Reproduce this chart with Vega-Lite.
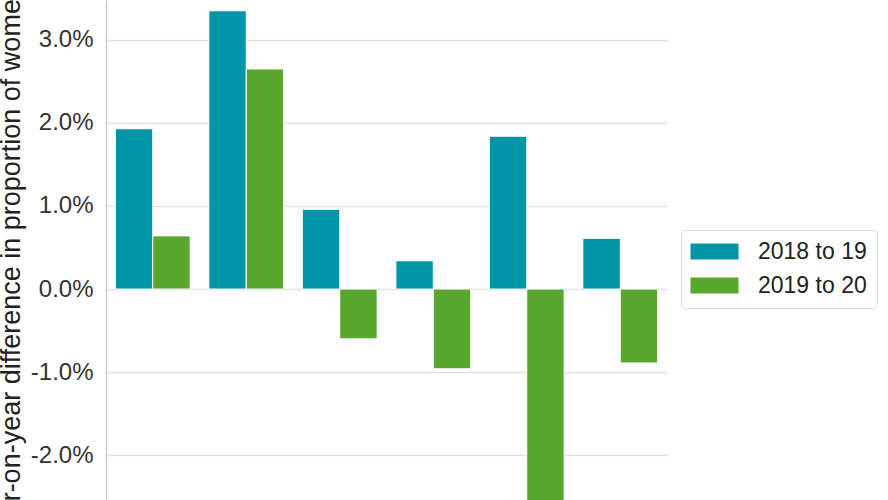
{
  "$schema": "https://vega.github.io/schema/vega-lite/v6.json",
  "width": 561,
  "height": 500,
  "autosize": {"type": "none"},
  "padding": {"left": 106, "top": 0, "right": 221, "bottom": 0},
  "background": "white",
  "config": {
    "view": {"stroke": null},
    "font": "Liberation Sans"
  },
  "data": {
    "values": [
      {"group": "Group 1", "period": "2018 to 19", "diff": 0.0193},
      {"group": "Group 1", "period": "2019 to 20", "diff": 0.0064},
      {"group": "Group 2", "period": "2018 to 19", "diff": 0.0335},
      {"group": "Group 2", "period": "2019 to 20", "diff": 0.0265},
      {"group": "Group 3", "period": "2018 to 19", "diff": 0.0096},
      {"group": "Group 3", "period": "2019 to 20", "diff": -0.0060},
      {"group": "Group 4", "period": "2018 to 19", "diff": 0.0034},
      {"group": "Group 4", "period": "2019 to 20", "diff": -0.0096},
      {"group": "Group 5", "period": "2018 to 19", "diff": 0.0184},
      {"group": "Group 5", "period": "2019 to 20", "diff": -0.0290},
      {"group": "Group 6", "period": "2018 to 19", "diff": 0.0061},
      {"group": "Group 6", "period": "2019 to 20", "diff": -0.0089}
    ]
  },
  "mark": {"type": "bar", "clip": true, "stroke": "white", "strokeWidth": 1},
  "encoding": {
    "x": {
      "field": "group",
      "type": "nominal",
      "axis": null,
      "scale": {"paddingInner": 0.2, "paddingOuter": 0.1}
    },
    "xOffset": {"field": "period", "type": "nominal", "scale": {"paddingInner": 0, "paddingOuter": 0}},
    "y": {
      "field": "diff",
      "type": "quantitative",
      "scale": {"domain": [-0.0254, 0.0348], "nice": false, "zero": false},
      "axis": {
        "title": "Year-on-year difference in proportion of women",
        "titleFontSize": 27,
        "titleFontWeight": "normal",
        "titleColor": "#222222",
        "titleAngle": -90,
        "titleAlign": "center",
        "titleBaseline": "alphabetic",
        "titleX": -87,
        "titleY": 265,
        "values": [-0.02, -0.01, 0, 0.01, 0.02, 0.03],
        "format": ".1%",
        "labelExpr": "replace(datum.label, '\u2212', '-')",
        "labelFontSize": 24,
        "labelColor": "#333333",
        "labelPadding": 13,
        "ticks": false,
        "grid": true,
        "gridColor": "#e2e2e2",
        "gridWidth": 1.5,
        "domain": true,
        "domainColor": "#d0d0d0",
        "domainWidth": 1.5
      }
    },
    "color": {
      "field": "period",
      "type": "nominal",
      "scale": {"domain": ["2018 to 19", "2019 to 20"], "range": ["#0096A8", "#5AA72F"]},
      "legend": {
        "title": null,
        "orient": "none",
        "legendX": 575,
        "legendY": 230,
        "symbolType": "M-1.5,-1H4.5V1H-1.5Z",
        "symbolSize": 256,
        "symbolStrokeWidth": 0,
        "labelFontSize": 23,
        "labelColor": "#222222",
        "labelOffset": 44,
        "rowPadding": 10,
        "padding": 10,
        "strokeColor": "#dddddd",
        "fillColor": "white",
        "cornerRadius": 4
      }
    }
  }
}
